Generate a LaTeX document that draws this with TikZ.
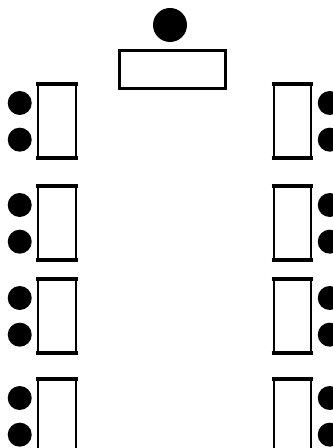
\documentclass[tikz,border=0pt]{standalone}
\usetikzlibrary{positioning}
\begin{document}
\begin{tikzpicture}[x=0.75pt, y=-0.75pt,
  desk/.style={draw, line width=1.5pt, minimum width=28.5pt, minimum height=54pt, inner sep=0pt},
  seat/.style={circle, fill=black, minimum size=18pt, inner sep=0pt},
  deskedge/.style={line width=3.4pt, shorten <=-0.75pt, shorten >=-0.75pt},
  node distance=3.75pt
]
\useasboundingbox (0,0) rectangle (332,448);

% teacher desk
\node[seat, minimum size=25.5pt] (tseat) at (170,25) {};
\node[draw, line width=2.25pt, minimum width=79.5pt, minimum height=28.5pt, inner sep=0pt] (tdesk) at (172.5,69.5) {};

% rows of pupil desks
\foreach \y [count=\i] in {121,223,316,416} {
  \node[desk] (l\i) at (57,\y) {};
  \node[desk, minimum width=27.75pt] (r\i) at (292,\y) {};
  \draw[deskedge] (l\i.north west) -- (l\i.north east);
  \draw[deskedge] (l\i.south west) -- (l\i.south east);
  \draw[deskedge] (r\i.north west) -- (r\i.north east);
  \draw[deskedge] (r\i.south west) -- (r\i.south east);
  \node[seat, left=of l\i, yshift=13.5pt] (la\i) {};
  \node[seat, left=of l\i, yshift=-14pt] (lb\i) {};
  \node[seat, right=4.5pt of r\i, yshift=13.5pt] (ra\i) {};
  \node[seat, right=4.5pt of r\i, yshift=-14pt] (rb\i) {};
}
\end{tikzpicture}
\end{document}
